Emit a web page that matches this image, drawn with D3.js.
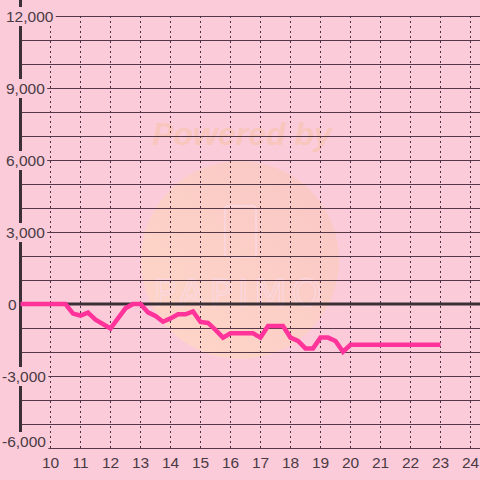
<!DOCTYPE html>
<html lang="en">
<head>
    <meta charset="UTF-8">
    <title>Chart</title>
    <script src="https://cdn.jsdelivr.net/npm/d3@7/dist/d3.min.js" charset="utf-8"></script>
    <style>
        body { margin: 0; background: #fccbda; }
    </style>
</head>
<body>
    <script>
        // data
        var xs = [9, 10.5, 10.75, 11, 11.25, 11.5, 12, 12.25, 12.5, 12.75, 13, 13.25, 13.5, 13.75, 14, 14.25, 14.5, 14.75,
                  15, 15.25, 15.5, 15.75, 16, 16.75, 17, 17.25, 17.75, 18, 18.25, 18.5, 18.75, 19, 19.25, 19.5, 19.75, 20, 23];
        var values = [0, 0, -400, -480, -360, -650, -1020, -600, -180, 0, 0, -350, -500, -740, -600, -430, -430, -310,
                      -750, -790, -1080, -1400, -1220, -1220, -1400, -920, -920, -1400, -1540, -1850, -1850, -1400, -1400, -1540, -1990, -1700, -1700];
        var xTicks = [10, 11, 12, 13, 14, 15, 16, 17, 18, 19, 20, 21, 22, 23, 24];
        var yTicks = [-6000, -3000, 0, 3000, 6000, 9000, 12000];
        var yGrid = d3.range(-6000, 12001, 1000);

        var width = 480;
        var height = 480;
        var bg = "#fccbda";

        var svg = d3.select("body")
            .append("svg")
            .attr("width", width)
            .attr("height", height)
            .style("display", "block");

        svg.append("rect").attr("width", width).attr("height", height).attr("fill", bg);

        var x = d3.scaleLinear().domain([9, 24]).range([20.5, 470.5]);
        var y = d3.scaleLinear().domain([-6000, 12000]).range([448, 16]);

        // watermark
        var defs = svg.append("defs");
        var grad = defs.append("linearGradient").attr("id", "wm")
            .attr("x1", "0").attr("y1", "1").attr("x2", "1").attr("y2", "0");
        grad.append("stop").attr("offset", "0").attr("stop-color", "#ffdcc0");
        grad.append("stop").attr("offset", "1").attr("stop-color", "#f8c4bc");
        svg.append("circle")
            .attr("cx", 240).attr("cy", 260).attr("r", 99)
            .attr("fill", "url(#wm)")
            .attr("opacity", 0.7);
        svg.append("text")
            .attr("x", 242).attr("y", 145)
            .attr("text-anchor", "middle")
            .attr("font-family", "Liberation Sans, Arial, sans-serif")
            .attr("font-weight", "bold")
            .attr("font-style", "italic")
            .attr("font-size", 32)
            .attr("fill", "#f8c6bc")
            .text("Powered by");
        svg.append("rect")
            .attr("x", 225).attr("y", 206).attr("width", 31).attr("height", 51)
            .attr("rx", 3)
            .attr("fill", "none")
            .attr("stroke", "#fbd8e4")
            .attr("stroke-width", 1.5);
        svg.append("text")
            .attr("x", 240).attr("y", 306)
            .attr("text-anchor", "middle")
            .attr("font-family", "DejaVu Sans, sans-serif")
            .attr("font-size", 38)
            .attr("letter-spacing", 5)
            .attr("fill", "none")
            .attr("stroke", "#fbd8e4")
            .attr("stroke-width", 1)
            .text("PAPIMO");

        // horizontal grid
        svg.append("g")
            .selectAll("line")
            .data(yGrid)
            .enter()
            .append("line")
            .attr("x1", 21)
            .attr("x2", width)
            .attr("y1", function (d) { return y(d) + 0.5; })
            .attr("y2", function (d) { return y(d) + 0.5; })
            .attr("stroke", "#553847")
            .attr("stroke-width", 1);

        // vertical dotted grid
        svg.append("g")
            .selectAll("line")
            .data(xTicks)
            .enter()
            .append("line")
            .attr("x1", function (d) { return x(d); })
            .attr("x2", function (d) { return x(d); })
            .attr("y1", 16)
            .attr("y2", 448)
            .attr("stroke", "#4a3040")
            .attr("stroke-width", 1)
            .attr("stroke-dasharray", "2,3");

        // zero line and y axis
        svg.append("line")
            .attr("x1", 21).attr("x2", width)
            .attr("y1", y(0)).attr("y2", y(0))
            .attr("stroke", "#3a3035").attr("stroke-width", 3);
        svg.append("line")
            .attr("x1", 20.5).attr("x2", 20.5)
            .attr("y1", 0).attr("y2", 448)
            .attr("stroke", "#3a3035").attr("stroke-width", 3);

        // data line
        var line = d3.line()
            .x(function (d, i) { return x(xs[i]); })
            .y(function (d) { return y(d); });
        svg.append("path")
            .datum(values)
            .attr("d", line)
            .attr("fill", "none")
            .attr("stroke", "#ff3399")
            .attr("stroke-width", 4.5)
            .attr("stroke-linejoin", "miter");

        // y labels with background
        var font = "Liberation Sans, Arial, sans-serif";
        var yl = svg.append("g")
            .selectAll("g")
            .data(yTicks)
            .enter()
            .append("g");
        yl.append("text")
            .attr("x", function (d) { return d < 0 ? 2 : (d === 0 ? 8 : 6); })
            .attr("y", function (d) { return y(d) + 6 - (d === -6000 ? 7 : 0); })
            .attr("font-family", font)
            .attr("font-size", 15.5)
            .attr("fill", "#4a3a42")
            .text(function (d) { return d3.format(",")(d).replace("−", "-"); })
            .each(function () {
                var b = this.getBBox();
                d3.select(this.parentNode).insert("rect", "text")
                    .attr("x", b.x - 1)
                    .attr("y", b.y - 1)
                    .attr("width", b.width + 3)
                    .attr("height", b.height + 2)
                    .attr("fill", bg);
            });

        // x labels
        svg.append("g")
            .selectAll("text")
            .data(xTicks)
            .enter()
            .append("text")
            .attr("x", function (d) { return x(d); })
            .attr("y", 468)
            .attr("text-anchor", "middle")
            .attr("font-family", font)
            .attr("font-size", 15.5)
            .attr("fill", "#4a3a42")
            .text(function (d) { return d; });
    </script>
</body>
</html>
